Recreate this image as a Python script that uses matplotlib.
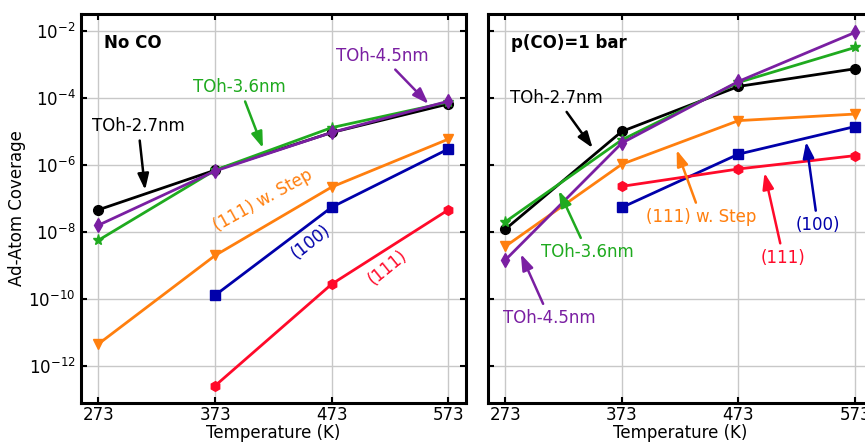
import matplotlib
matplotlib.use('Agg')
import matplotlib.pyplot as plt

temps = [273, 373, 473, 573]
temps_facet = [373, 473, 573]

# No CO
noco_27 = [4.6e-8, 7.0e-7, 9.3e-6, 6.6e-5]
noco_36 = [5.7e-9, 7.0e-7, 1.3e-5, 7.5e-5]
noco_45 = [1.6e-8, 6.6e-7, 9.3e-6, 8.0e-5]
noco_step = [4.6e-12, 2.0e-9, 2.2e-7, 5.9e-6]
noco_100 = [1.3e-10, 5.5e-8, 3.0e-6]
noco_111 = [2.6e-13, 2.8e-10, 4.6e-8]

# p(CO) = 1 bar
co_27 = [1.2e-8, 1.0e-5, 2.2e-4, 7.4e-4]
co_36 = [2.0e-8, 5.6e-6, 2.9e-4, 3.2e-3]
co_45 = [1.45e-9, 4.5e-6, 3.1e-4, 9.0e-3]
co_step = [3.7e-9, 1.05e-6, 2.1e-5, 3.3e-5]
co_100 = [5.4e-8, 2.1e-6, 1.4e-5]
co_111 = [2.3e-7, 7.6e-7, 1.9e-6]

c_black = 'black'
c_green = '#1faa1f'
c_purple = '#7a1fa2'
c_orange = '#ff7f0e'
c_blue = '#0000aa'
c_red = '#ff0a2a'

fig = plt.figure(figsize=(8.65, 4.44), dpi=100)
ax1 = fig.add_axes([0.0936, 0.0923, 0.445, 0.876])
ax2 = fig.add_axes([0.5638, 0.0923, 0.445, 0.876])


def draw(ax, d27, d36, d45, dstep, d100, d111):
	kw = dict(lw=2, ms=7)
	ax.plot(temps, d27, '-o', color=c_black, **kw)
	ax.plot(temps, dstep, '-v', color=c_orange, **kw)
	ax.plot(temps_facet, d100, '-s', color=c_blue, **kw)
	ax.plot(temps_facet, d111, '-h', color=c_red, **kw)
	ax.plot(temps, d36, '-*', color=c_green, lw=2, ms=8)
	ax.plot(temps, d45, '-d', color=c_purple, **kw)
	ax.set_yscale('log')
	ax.set_xlim(258, 588)
	ax.set_ylim(10**-13.1, 10**-1.5)
	ax.set_xticks(temps)
	ax.set_yticks([1e-12, 1e-10, 1e-8, 1e-6, 1e-4, 1e-2])
	ax.minorticks_off()
	ax.grid(True, color='#c8c8c8', lw=1)
	ax.set_axisbelow(True)
	ax.tick_params(direction='in', top=True, right=True, length=4, width=1.5, labelsize=12, pad=4)
	ax.tick_params(axis='x', pad=2)
	for s in ax.spines.values():
		s.set_linewidth(2.2)
	ax.set_xlabel('Temperature (K)', fontsize=12, labelpad=0)


def note(ax, text, color, xytext, xy):
	ax.annotate(text, xy=xy, xytext=xytext, color=color, fontsize=12, ha='center', va='center',
		arrowprops=dict(arrowstyle='-|>,head_length=0.8,head_width=0.28', color=color, lw=1.8,
			shrinkA=2, shrinkB=0))


draw(ax1, noco_27, noco_36, noco_45, noco_step, noco_100, noco_111)
draw(ax2, co_27, co_36, co_45, co_step, co_100, co_111)
ax2.tick_params(labelleft=False)
ax1.set_ylabel('Ad-Atom Coverage', fontsize=12, labelpad=2)

ax1.text(0.06, 0.925, 'No CO', transform=ax1.transAxes, fontsize=12, fontweight='bold', va='center')
ax2.text(0.06, 0.925, 'p(CO)=1 bar', transform=ax2.transAxes, fontsize=12, fontweight='bold', va='center')

note(ax1, 'TOh-3.6nm', c_green, (394, 2.1e-4), (414, 3.2e-6))
note(ax1, 'TOh-4.5nm', c_purple, (516, 1.8e-3), (556, 6.6e-5))
note(ax1, 'TOh-2.7nm', c_black, (307, 1.45e-5), (313, 1.8e-7))
ax1.text(414, 8.5e-8, '(111) w. Step', color=c_orange, fontsize=12, rotation=29, ha='center', va='center')
ax1.text(455, 5e-9, '(100)', color=c_blue, fontsize=12, rotation=38, ha='center', va='center')
ax1.text(521, 8.5e-10, '(111)', color=c_red, fontsize=12, rotation=39, ha='center', va='center')

note(ax2, 'TOh-2.7nm', c_black, (317, 1e-4), (348, 3.2e-6))
note(ax2, 'TOh-3.6nm', c_green, (343.5, 2.5e-9), (319, 1.7e-7))
note(ax2, 'TOh-4.5nm', c_purple, (311, 2.7e-11), (286.4, 2.2e-9))
note(ax2, '(111) w. Step', c_orange, (441, 2.8e-8), (420, 2.8e-6))
note(ax2, '(111)', c_red, (511.6, 1.7e-9), (495.3, 5.8e-7))
note(ax2, '(100)', c_blue, (541, 1.6e-8), (531, 4.9e-6))

fig.savefig('out.png', dpi=100)
